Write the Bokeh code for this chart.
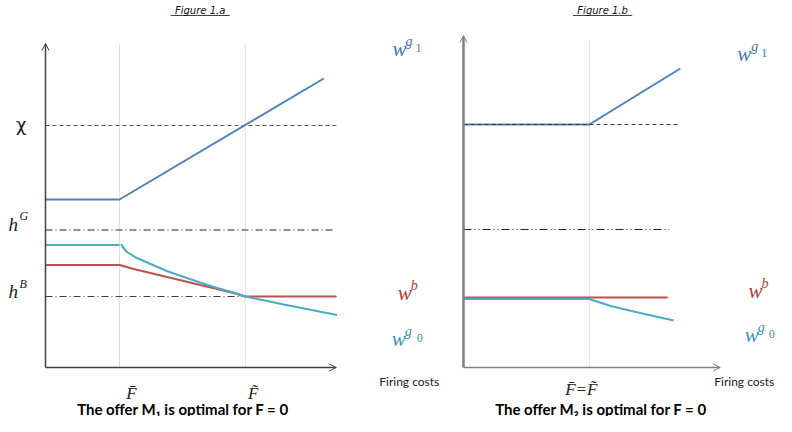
from bokeh.plotting import figure
from bokeh.layouts import row
from bokeh.models import Range1d, Arrow, OpenHead
from bokeh.core.properties import value
from bokeh.embed import file_html
from bokeh.resources import INLINE

# ---------------- data : Figure 1.a ----------------
A_F_BAR = 1.00
A_F_TILDE = 2.70
A_X_MAX = 3.93
A_Y_MAX = 6.48
A_CHI = 4.84
A_HG = 2.75
A_HG_END = 3.89
A_HB = 1.42
a_blue_x = [0.0, 1.00, 3.76]
a_blue_y = [3.36, 3.36, 5.78]
a_cyan_flat_x = [0.0, 1.00]
a_cyan_flat_y = [2.45, 2.45]
a_cyan_x = [1.02, 1.04, 1.10, 1.22, 1.42, 1.64, 1.87, 2.09, 2.32, 2.54, 2.70, 3.22, 3.94]
a_cyan_y = [2.47, 2.42, 2.31, 2.20, 2.07, 1.93, 1.81, 1.70, 1.59, 1.50, 1.42, 1.26, 1.05]
a_red_x = [0.0, 1.00, 1.19, 1.42, 1.64, 1.87, 2.09, 2.32, 2.54, 2.70, 3.93]
a_red_y = [2.05, 2.05, 1.97, 1.89, 1.81, 1.73, 1.65, 1.57, 1.49, 1.42, 1.42]

# ---------------- data : Figure 1.b ----------------
B_F = 1.70
B_X_MAX = 3.47
B_Y_MAX = 6.64
B_VLINE_TOP = 6.54
B_CHI = 4.86
B_CHI_END = 2.92
B_HG = 2.76
B_HG_END = 2.78
b_blue_x = [0.0, 1.70, 2.93]
b_blue_y = [4.86, 4.86, 5.98]
b_red_x = [0.0, 2.76]
b_red_y = [1.40, 1.40]
b_cyan_x = [0.0, 1.70, 1.99, 2.27, 2.54, 2.84]
b_cyan_y = [1.37, 1.37, 1.23, 1.13, 1.04, 0.94]

# ---------------- style ----------------
BLUE, RED, CYAN = "#4F81BD", "#C0504D", "#4BACC6"
BLUE_T, RED_T, CYAN_T = "#4673B3", "#A8403D", "#3696B3"
XS, YS = 74.0, 50.0          # pixels per data unit
SERIF = value("Liberation Serif")
SANS = value("Lato")
H = 416
Y0_PX = 367                  # pixel row of the horizontal axis
FIX = 4                      # lift of text drawn on alphabetic / middle baseline


def make_fig(width, left_px, axis_px):
    x_start = (left_px - axis_px) / XS
    p = figure(width=width, height=H, output_backend="svg", toolbar_location=None,
               x_range=Range1d(x_start, x_start + width / XS),
               y_range=Range1d((Y0_PX - H) / YS, Y0_PX / YS),
               min_border=0, min_border_left=0, min_border_right=0,
               min_border_top=0, min_border_bottom=0)
    p.axis.visible = False
    p.grid.visible = False
    p.outline_line_color = None
    p.background_fill_color = "white"
    p.border_fill_color = "white"
    return p


def txt(p, x, y, s, size, color="#000000", font=SANS, style="normal", align="left",
        baseline="alphabetic", dx=0.0, dy=0.0):
    if baseline != "top":
        dy += FIX
    p.text(x=[x + dx / XS], y=[y + dy / YS], text=[s], text_font=font,
           text_font_size=f"{size}px", text_font_style=style, text_color=color,
           text_align=align, text_baseline=baseline)


def wlabel(p, x, y, sup, sub, color, sup_dx=13, sub_dx=23):
    txt(p, x, y, "w", 21, color, SERIF, "italic")
    txt(p, x, y, sup, 14, color, SERIF, "italic", dx=sup_dx, dy=7)
    if sub:
        txt(p, x, y, sub, 12, color, SERIF, "normal", dx=sub_dx, dy=1)


def axes(p, xmax, ymax, color, ywidth):
    p.add_layout(Arrow(end=OpenHead(size=7, line_color=color, line_width=1),
                       x_start=0, y_start=0, x_end=0, y_end=ymax,
                       line_color=color, line_width=ywidth))
    p.add_layout(Arrow(end=OpenHead(size=7, line_color=color, line_width=1),
                       x_start=0, y_start=0, x_end=xmax, y_end=0,
                       line_color=color, line_width=1.5))


def py(pix):
    return (Y0_PX - pix) / YS


# ================= Figure 1.a =================
pa = make_fig(448, 0, 45)
for f in (A_F_BAR, A_F_TILDE):
    pa.line([f, f], [0, A_Y_MAX], line_color="#BFBFBF", line_width=1, line_dash="1 1")
pa.line([0, A_X_MAX], [A_CHI, A_CHI], line_color="#595959", line_width=1, line_dash="4 3")
pa.line([0, A_HG_END], [A_HG, A_HG], line_color="#262626", line_width=1, line_dash="7 3 1 3")
pa.line([0, A_X_MAX], [A_HB, A_HB], line_color="#404040", line_width=1, line_dash="7 3 1 3")
pa.line(a_blue_x, a_blue_y, line_color=BLUE, line_width=2)
pa.line(a_red_x, a_red_y, line_color=RED, line_width=2)
pa.line(a_cyan_flat_x, a_cyan_flat_y, line_color=CYAN, line_width=2)
pa.line(a_cyan_x, a_cyan_y, line_color=CYAN, line_width=2)
axes(pa, A_X_MAX, A_Y_MAX, "#404040", 1.5)

# labels
txt(pa, 2.09, py(4), "Figure 1.a", 10, "#111111", value("DejaVu Sans"), "italic",
    align="center", baseline="top")
pa.line([1.69, 2.49], [py(15), py(15)], line_color="#111111", line_width=0.8)
txt(pa, -0.40, A_CHI, "χ", 18, "#222222", value("DejaVu Sans"), baseline="middle", dy=-3)
txt(pa, -0.50, A_HG, "h", 19, "#222222", SERIF, "italic", dy=2)
txt(pa, -0.50, A_HG, "G", 12, "#222222", SERIF, "italic", dx=11, dy=10)
txt(pa, -0.50, A_HB, "h", 19, "#222222", SERIF, "italic", dy=1)
txt(pa, -0.50, A_HB, "B", 12, "#222222", SERIF, "italic", dx=11, dy=9)
wlabel(pa, 4.69, py(52), "g", "1", BLUE_T)
wlabel(pa, 4.76, py(296), "b", None, RED_T, sup_dx=13)
wlabel(pa, 4.68, py(342), "g", "0", CYAN_T, sup_dx=13, sub_dx=25)
txt(pa, A_F_BAR, 0, "F\u0304", 17, "#222222", SERIF, "italic", align="center", dx=12, dy=-30)
txt(pa, A_F_TILDE, 0, "F\u0303", 17, "#222222", SERIF, "italic", align="center", dx=8, dy=-30)
txt(pa, 4.51, 0, "Firing costs", 12, "#222222", SANS, dy=-18)
txt(pa, 1.86, py(412), "The offer M\u2081 is optimal for F = 0", 15, "#000000", SANS, "bold",
    align="center")

# ================= Figure 1.b =================
pb = make_fig(328, 448, 463)
pb.line([B_F, B_F], [0, B_VLINE_TOP], line_color="#BFBFBF", line_width=1, line_dash="1 1")
pb.line([0, B_HG_END], [B_HG, B_HG], line_color="#262626", line_width=1, line_dash="8 3 1 3 1 3")
pb.line(b_blue_x, b_blue_y, line_color=BLUE, line_width=2)
pb.line([0, B_CHI_END], [B_CHI, B_CHI], line_color="#404040", line_width=1, line_dash="4 3")
pb.line(b_red_x, b_red_y, line_color=RED, line_width=2)
pb.line(b_cyan_x, b_cyan_y, line_color=CYAN, line_width=2)
axes(pb, B_X_MAX, B_Y_MAX, "#808080", 2.5)

txt(pb, 1.88, py(4), "Figure 1.b", 10, "#111111", value("DejaVu Sans"), "italic",
    align="center", baseline="top")
pb.line([1.48, 2.28], [py(15), py(15)], line_color="#111111", line_width=0.8)
wlabel(pb, 3.70, py(57), "g", "1", BLUE_T, sup_dx=14, sub_dx=24)
wlabel(pb, 3.85, py(294), "b", None, RED_T, sup_dx=13)
wlabel(pb, 3.80, py(338), "g", "0", CYAN_T, sup_dx=13, sub_dx=24)
txt(pb, B_F, 0, "F\u0304=F\u0303", 17, "#222222", SERIF, "italic", align="center", dx=-8, dy=-26)
txt(pb, 4.20, 0, "Firing costs", 12, "#222222", SANS, align="right", dy=-18)
txt(pb, 1.86, py(412), "The offer M\u2082 is optimal for F = 0", 15, "#000000", SANS, "bold",
    align="center")

layout = row(pa, pb)
open("out.html", "w").write(file_html(layout, INLINE))
